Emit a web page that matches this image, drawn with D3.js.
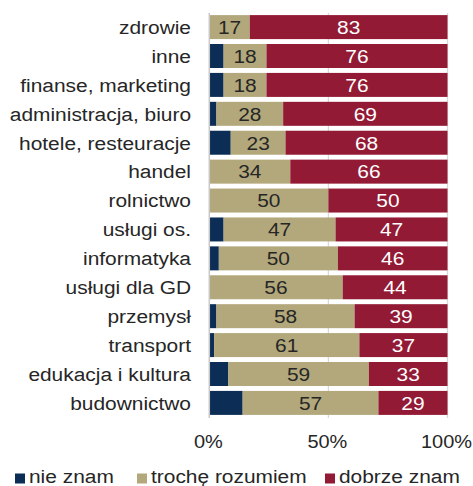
<!DOCTYPE html>
<html><head><meta charset="utf-8">
<script src="https://cdn.jsdelivr.net/npm/d3@7"></script>
<style>body{margin:0;background:#fff}text{font-family:"Liberation Sans",Arial,sans-serif;fill:#262626}</style>
</head><body><svg id="c" width="473" height="486"></svg>
<script>
const categories = ["zdrowie","inne","finanse, marketing","administracja, biuro","hotele, resteuracje","handel","rolnictwo","usługi os.","informatyka","usługi dla GD","przemysł","transport","edukacja i kultura","budownictwo"];
const nieZnam = [0,6,6,3,9,0,0,6,4,0,3,2,8,14];
const trocheRozumiem = [17,18,18,28,23,34,50,47,50,56,58,61,59,57];
const dobrzeZnam = [83,76,76,69,68,66,50,47,46,44,39,37,33,29];
const seriesNames = ["nie znam","trochę rozumiem","dobrze znam"];
const colors = ["#0c2e56","#b3a87b","#931a35"];
const tickValues = [0,50,100];

const svg = d3.select("#c");
const x = d3.scaleLinear().domain([0,100]).range([209.3,447.5]);
const y = d3.scaleBand().domain(categories).range([12.5,417.5]).paddingInner(0.17).paddingOuter(0.09);
const SX = 1.1, FS = 19;

// gridlines
svg.append("g").selectAll("line").data(tickValues.slice(1)).join("line")
  .attr("x1",d=>x(d)).attr("x2",d=>x(d)).attr("y1",13).attr("y2",418)
  .attr("stroke","#d9d9d9").attr("stroke-width",1.3);

const rows = categories.map((c,i)=>({cat:c,vals:[nieZnam[i],trocheRozumiem[i],dobrzeZnam[i]]}));
const segs = [];
rows.forEach(r=>{let acc=0;r.vals.forEach((v,k)=>{segs.push({cat:r.cat,k,v,x0:acc,x1:acc+v});acc+=v;});});

svg.append("g").selectAll("rect").data(segs.filter(s=>s.v>0)).join("rect")
  .attr("x",d=>x(d.x0)).attr("width",d=>x(d.x1)-x(d.x0))
  .attr("y",d=>y(d.cat)).attr("height",y.bandwidth())
  .attr("fill",d=>colors[d.k]);

// value labels
svg.append("g").selectAll("text").data(segs.filter(s=>s.k>0)).join("text")
  .attr("transform",d=>`translate(${(x(d.x0)+x(d.x1))/2},${y(d.cat)+y.bandwidth()/2}) scale(${SX},1)`)
  .attr("text-anchor","middle").attr("dy","0.36em").style("font-size",FS+"px")
  .style("fill",d=>d.k===2?"#fff":"#262626").text(d=>d.v);

// left axis line
svg.append("line").attr("x1",x(0)).attr("x2",x(0)).attr("y1",13).attr("y2",418)
  .attr("stroke","#c8c8c8").attr("stroke-width",1.5);

// category labels
svg.append("g").selectAll("text").data(categories).join("text")
  .attr("transform",d=>`translate(191,${y(d)+y.bandwidth()/2}) scale(${SX},1)`)
  .attr("text-anchor","end").attr("dy","0.36em").style("font-size",FS+"px").text(d=>d);

// x tick labels
svg.append("g").selectAll("text").data(tickValues).join("text")
  .attr("transform",d=>`translate(${x(d)-1},448) scale(1.05,1)`)
  .attr("text-anchor","middle").style("font-size",FS+"px").text(d=>d+"%");

// legend
const legX = [15,137,325];
const lg = svg.append("g").selectAll("g").data(seriesNames).join("g")
  .attr("transform",(d,i)=>`translate(${legX[i]},0)`);
lg.append("rect").attr("x",0).attr("y",473.5).attr("width",10).attr("height",10).attr("fill",(d,i)=>colors[i]);
lg.append("text").attr("transform","translate(14,483) scale(1.1,1)").style("font-size",FS+"px").text(d=>d);
</script></body></html>
